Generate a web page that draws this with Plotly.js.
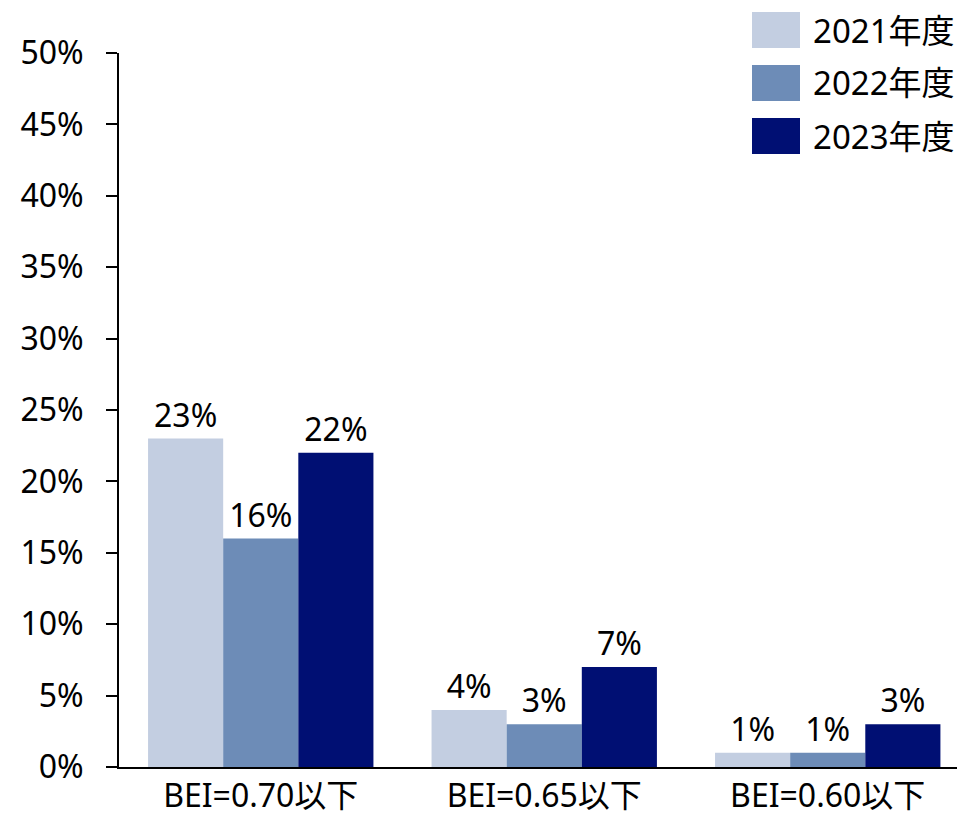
<!DOCTYPE html>
<html>
<head>
<meta charset="utf-8">
<script src="https://cdn.plot.ly/plotly-3.0.1.min.js"></script>
<style>
  html, body { margin: 0; padding: 0; background: #fff; }
  #chart { width: 957px; height: 817px; }
</style>
</head>
<body>
<div id="chart"></div>
<script>
// BEI threshold categories and share of buildings per fiscal year
const categories = ['BEI=0.70以下', 'BEI=0.65以下', 'BEI=0.60以下'];
const seriesNames = ['2021年度', '2022年度', '2023年度'];
const values2021 = [23, 4, 1];
const values2022 = [16, 3, 1];
const values2023 = [22, 7, 3];
const seriesColors = ['#C3CEE1', '#6D8CB7', '#000F73'];
const yTicks = [0, 5, 10, 15, 20, 25, 30, 35, 40, 45, 50];

const FONT = '"Noto Sans", "Noto Sans CJK JP", sans-serif';
const allValues = [values2021, values2022, values2023];

const traces = allValues.map((vals, i) => ({
  type: 'bar',
  name: seriesNames[i],
  x: categories,
  y: vals,
  marker: { color: seriesColors[i], line: { width: 0 } },
  text: vals.map(v => v + '%'),
  textposition: 'outside',
  textfont: { family: FONT, size: 32, color: '#000' },
  cliponaxis: false,
  hoverinfo: 'skip'
}));

// Legend: large colour swatches with labels stacked in the top-right corner
const shapes = [];
const annotations = [];
seriesNames.forEach((name, i) => {
  const top = 12 + i * 53;
  shapes.push({
    type: 'rect', xref: 'paper', yref: 'paper',
    x0: (752 - 119) / 838, x1: (800 - 119) / 838,
    y0: 1 - (top + 36 - 53) / 714, y1: 1 - (top - 53) / 714,
    fillcolor: seriesColors[i], line: { width: 0 }
  });
  annotations.push({
    xref: 'paper', yref: 'paper',
    x: (811 - 119) / 838, y: 1 - (top + 18 - 53) / 714,
    xanchor: 'left', yanchor: 'middle',
    text: name, showarrow: false,
    font: { family: FONT, size: 33, color: '#000' }
  });
});

const layout = {
  width: 957, height: 817,
  margin: { l: 119, r: 0, t: 53, b: 50 },
  paper_bgcolor: '#fff', plot_bgcolor: '#fff',
  showlegend: false,
  barmode: 'group',
  bargap: 0.205,
  bargroupgap: 0,
  font: { family: FONT, size: 32, color: '#000' },
  xaxis: {
    type: 'category',
    range: [-0.5, 2.456],
    showline: true, linecolor: '#000', linewidth: 2,
    ticks: '', showgrid: false, zeroline: false,
    tickfont: { family: FONT, size: 32, color: '#000' },
    fixedrange: true
  },
  yaxis: {
    range: [0, 50],
    tickvals: yTicks,
    ticktext: yTicks.map(v => v + '%'),
    showline: true, linecolor: '#000', linewidth: 2,
    ticks: 'outside', ticklen: 11, tickwidth: 2, tickcolor: '#000',
    ticklabelstandoff: 16,
    showgrid: false, zeroline: false,
    tickfont: { family: FONT, size: 32, color: '#000' },
    fixedrange: true
  },
  shapes: shapes,
  annotations: annotations
};

Plotly.newPlot('chart', traces, layout, { staticPlot: true, displayModeBar: false });
</script>
</body>
</html>
